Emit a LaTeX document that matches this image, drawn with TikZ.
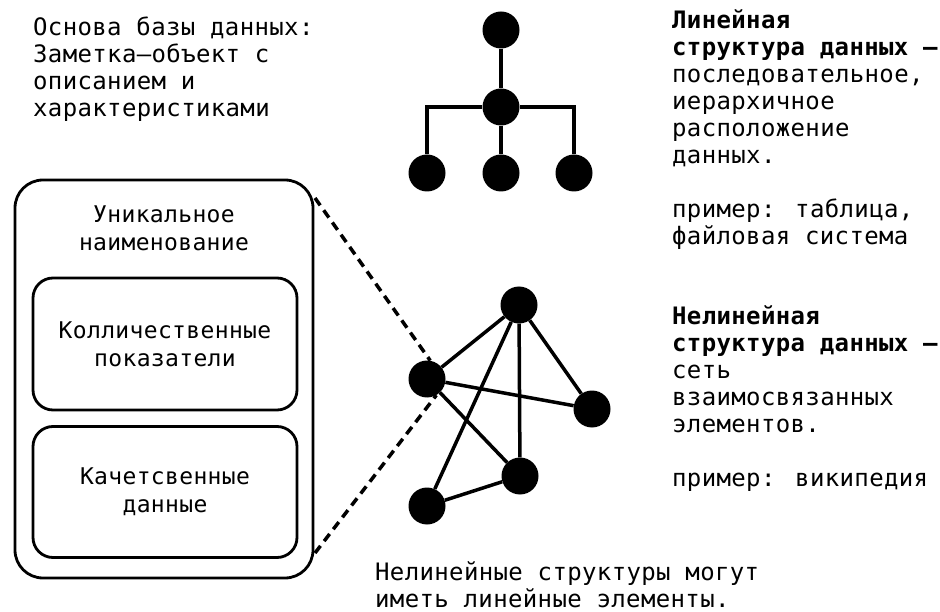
\documentclass[tikz,border=0pt]{standalone}
\usepackage{fontspec}
\setmainfont{DejaVu Sans Mono}[LetterSpace=1.5]
\begin{document}
\begin{tikzpicture}[x=1pt,y=-1pt,
  ball/.style={circle,fill=black,minimum size=37pt,inner sep=0pt},
  link/.style={line width=3.5pt},
  card/.style={draw,line width=2.8pt,align=center,inner sep=0pt,
    font=\fontsize{23}{28}\selectfont},
  txt/.style={inner sep=0pt,align=left,anchor=base west,
    font=\fontsize{24}{27}\selectfont}]
\useasboundingbox (0,0) rectangle (940,612);

% Note object with its fields
\node[card,rounded corners=28pt,minimum width=298pt,minimum height=398pt] (note) at (164,379) {};
\node[card,draw=none,anchor=base] (name) at (164,251) {Уникальное\\наименование};
\node[card,rounded corners=20pt,minimum width=264pt,minimum height=132pt] (quant) at (165,344)
  {Колличественные\\показатели};
\node[card,rounded corners=20pt,minimum width=264pt,minimum height=131pt] (qual) at (165,492)
  {Качетсвенные\\данные};

% Linear structure (tree)
\node[ball] (t0) at (501,30) {};
\node[ball] (t1) at (501,107) {};
\node[ball] (t2) at (427,173) {};
\node[ball] (t3) at (501,173) {};
\node[ball] (t4) at (574,173) {};
\draw[link] (t0) -- (t1) -- (t3);
\draw[link] (t2) |- (t1);
\draw[link] (t4) |- (t1);

% Nonlinear structure (network)
\node[ball] (g1) at (519,305) {};
\node[ball] (g2) at (427,379) {};
\node[ball] (g3) at (592,409) {};
\node[ball] (g4) at (520,476) {};
\node[ball] (g5) at (427,506) {};
\foreach \a/\b in {g1/g2,g1/g3,g1/g4,g1/g5,g2/g3,g2/g4,g4/g5}
  \draw[link] (\a) -- (\b);

% Zoom lines from the note to one element
\coordinate (dtop) at (315,198);
\coordinate (dbot) at (315,553);
\draw[line width=3.5pt,dash pattern=on 9pt off 6pt] (dtop) -- (g2.80);
\draw[line width=3.5pt,dash pattern=on 9pt off 6pt] (dbot) -- (g2.-60);

% Texts (anchored at the baseline of their last line)
\node[txt] (base) at (33,117) {Основа базы данных:\\Заметка–объект с\\описанием и\\характеристиками};
\node[txt] (lin) at (672,245) {\textbf{Линейная}\\\textbf{структура данных —}\\последовательное,\\иерархичное\\расположение\\данных.\\[27pt]пример: таблица,\\файловая система};
\node[txt] (nonlin) at (672,486) {\textbf{Нелинейная}\\\textbf{структура данных —}\\сеть\\взаимосвязанных\\элементов.\\[27pt]пример: википедия};
\node[txt] (remark) at (375,607) {Нелинейные структуры могут\\иметь линейные элементы.};
\end{tikzpicture}
\end{document}
